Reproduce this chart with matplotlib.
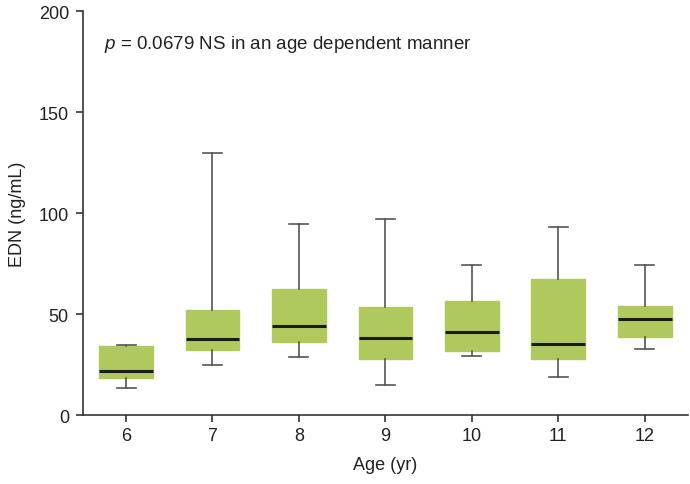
import matplotlib
matplotlib.use("Agg")
import matplotlib.pyplot as plt

plt.rcParams['font.family'] = ['Liberation Sans', 'DejaVu Sans']
plt.rcParams['mathtext.fontset'] = 'custom'
plt.rcParams['mathtext.it'] = 'Liberation Sans:italic'
plt.rcParams['mathtext.rm'] = 'Liberation Sans'

ages = [6, 7, 8, 9, 10, 11, 12]
whisk_lo = [13.5, 24.8, 28.9, 15.0, 29.4, 18.8, 32.8]
q1 = [18.2, 32.2, 36.0, 28.0, 31.5, 27.7, 38.8]
median = [21.8, 37.6, 43.9, 38.0, 41.1, 35.1, 47.4]
q3 = [34.0, 52.0, 62.4, 53.6, 56.3, 67.5, 54.1]
whisk_hi = [34.7, 130.0, 94.7, 96.9, 74.4, 93.2, 74.4]

# estadisticas para bxp
stats = []
for i in range(len(ages)):
    stats.append({
        "whislo": whisk_lo[i], "q1": q1[i], "med": median[i],
        "q3": q3[i], "whishi": whisk_hi[i], "fliers": [],
    })

fig = plt.figure(figsize=(6.9, 4.85), dpi=100)
ax = fig.add_axes([0.12, 0.142, 0.877, 0.833])

verde = "#b0c95d"
ax.bxp(stats, positions=ages, widths=0.62, patch_artist=True,
       showfliers=False, capwidths=0.22,
       boxprops=dict(facecolor=verde, edgecolor=verde, linewidth=1),
       medianprops=dict(color="#1a1a1a", linewidth=2.2),
       whiskerprops=dict(color="#555555", linewidth=1.2),
       capprops=dict(color="#555555", linewidth=1.2))

ax.set_xlim(5.5, 12.5)
ax.set_ylim(0, 200)
ax.set_yticks([0, 50, 100, 150, 200])
ax.set_xticks(ages)
ax.set_xticklabels([str(a) for a in ages])

for s in ["top", "right"]:
    ax.spines[s].set_visible(False)
for s in ["left", "bottom"]:
    ax.spines[s].set_color("#333333")
    ax.spines[s].set_linewidth(1.2)
ax.tick_params(axis="both", labelsize=13, color="#333333", width=1.2,
               length=5, direction="out", labelcolor="#222222")
ax.tick_params(axis="y", pad=5)

ax.set_xlabel("Age (yr)", fontsize=13, color="#222222", labelpad=9)
ax.set_ylabel("EDN (ng/mL)", fontsize=13, color="#222222", labelpad=9)

ax.text(5.75, 184, r"$p$ = 0.0679 NS in an age dependent manner",
        fontsize=13.5, color="#222222", va="center", ha="left")

fig.savefig("out.png", dpi=100)
